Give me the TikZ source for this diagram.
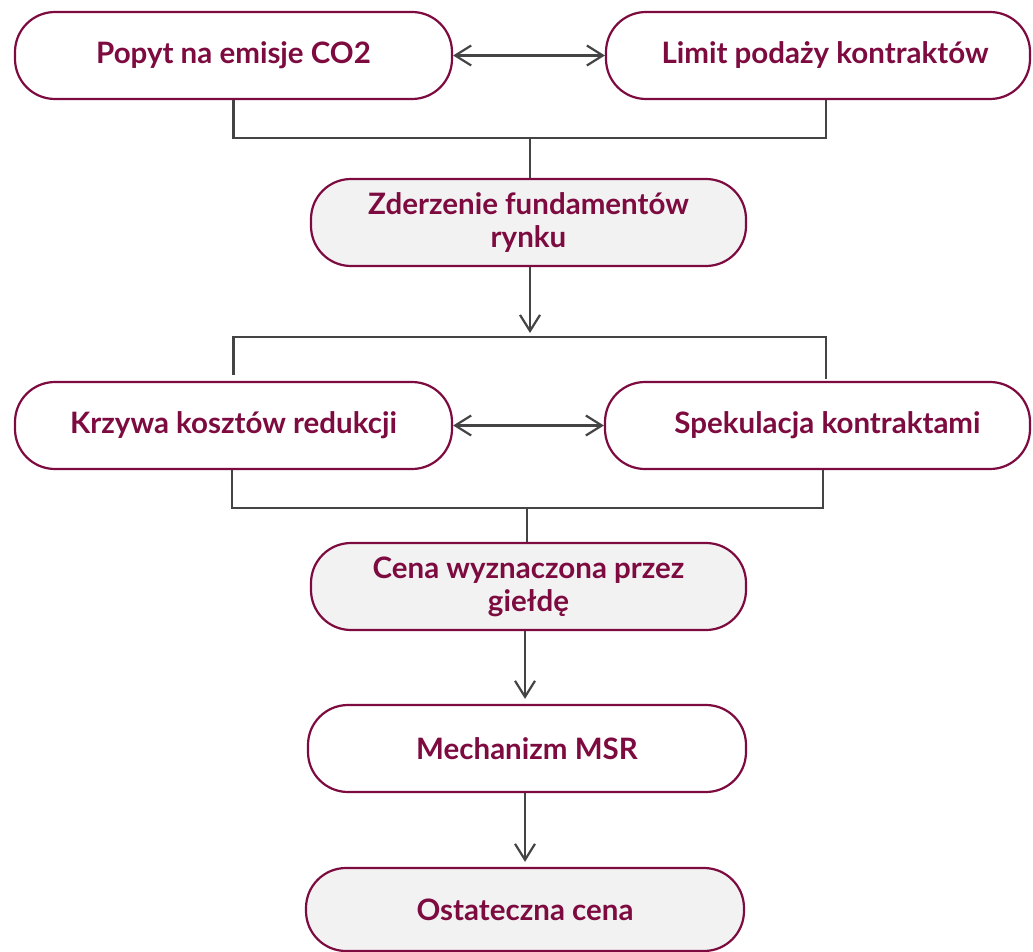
\documentclass[tikz,border=0pt]{standalone}
\usepackage{fontspec}
\setmainfont{Lato}
\usetikzlibrary{arrows.meta}
\definecolor{wine}{HTML}{7D0B40}
\definecolor{boxgray}{HTML}{F2F2F2}
\definecolor{linegray}{HTML}{444444}
\begin{document}
\begin{tikzpicture}[x=1pt,y=-1pt,
  box/.style={draw=wine, line width=2.2pt, rounded corners=40pt, fill=white,
    minimum height=87pt, align=center, text=wine,
    font=\bfseries\fontsize{29.5}{33}\selectfont, inner sep=0pt},
  graybox/.style={box, fill=boxgray},
  conn/.style={draw=linegray, line width=2.2pt},
  arr/.style={conn, -{Straight Barb[length=16pt,width=20pt,line width=2.2pt]}},
  darr/.style={conn, {Straight Barb[length=16pt,width=20pt,line width=2.2pt]}-{Straight Barb[length=16pt,width=20pt,line width=2.2pt]}}]
\useasboundingbox (0,0) rectangle (1033,952);
\node[box, minimum width=437pt] (n1) at (233.5,55.5) {Popyt na emisje CO2};
\node[box, minimum width=424pt] (n2) at (818,55.5) {\hspace*{14pt}Limit podaży kontraktów};
\node[graybox, minimum width=435pt] (n3) at (528.5,222.5) {Zderzenie fundamentów\\rynku};
\node[box, minimum width=437pt] (n4) at (233.5,425.5) {Krzywa kosztów redukcji};
\node[box, minimum width=425pt] (n5) at (817.5,425.5) {\hspace*{20pt}Spekulacja kontraktami};
\node[graybox, minimum width=435pt] (n6) at (528.5,586.5) {Cena wyznaczona przez\\giełdę};
\node[box, minimum width=438pt] (n7) at (527,748.5) {Mechanizm MSR};
\node[graybox, minimum width=438pt, minimum height=83pt] (n8) at (525,909.5) {Ostateczna cena};

\coordinate (j1) at (530,138);
\coordinate (j2) at (530,337);
\coordinate (j3) at (527,508);
\coordinate (a6) at (525,0);

\draw[darr] (n1.east) -- (n2.west);
\draw[darr] (n4.east) -- (n5.west);

\draw[conn] (n1.south) |- (j1);
\draw[conn] ([xshift=8pt]n2.south) |- (j1);
\draw[conn] (j1) -- (j1 |- n3.north);

\draw[arr] (j2 |- n3.south) -- ([yshift=4pt]j2);
\draw[conn] ([yshift=6pt]n4.north) |- (j2);
\draw[conn] ([xshift=8.5pt,yshift=2pt]n5.north) |- (j2);

\draw[conn] ([xshift=-1.5pt]n4.south) |- (j3);
\draw[conn] ([xshift=5.5pt]n5.south) |- (j3);
\draw[conn] (j3) -- (j3 |- n6.north);

\draw[arr] (a6 |- n6.south) -- ([yshift=5pt]a6 |- n7.north);
\draw[arr] (a6 |- n7.south) -- ([yshift=5pt]a6 |- n8.north);
\end{tikzpicture}
\end{document}
